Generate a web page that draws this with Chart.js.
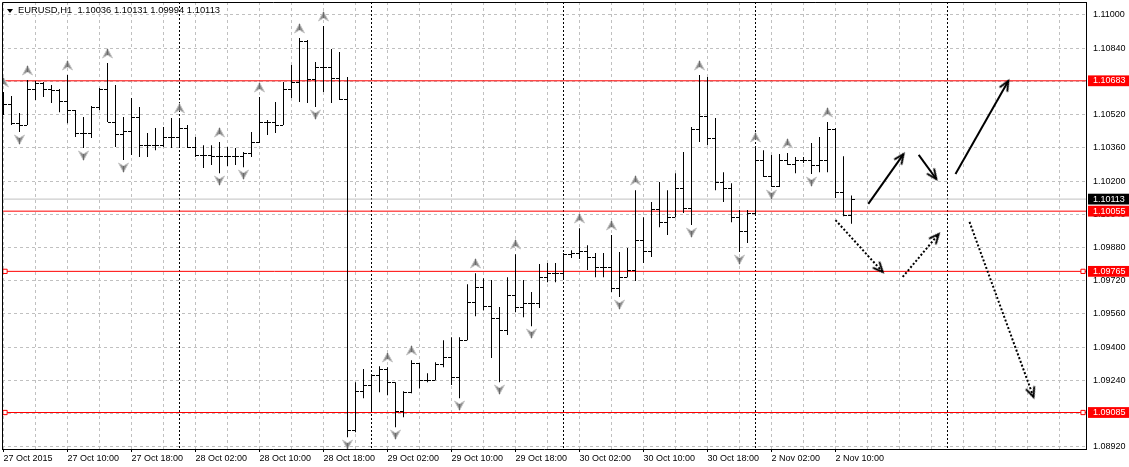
<!DOCTYPE html>
<html>
<head>
<meta charset="utf-8">
<script src="https://cdn.jsdelivr.net/npm/chart.js@4.4.0/dist/chart.umd.min.js"></script>
<style>
  html, body { margin: 0; padding: 0; background: #fff; }
  #wrap { position: relative; width: 1129px; height: 467px; }
  #tri { position: absolute; left: 7px; top: 9px; width: 0; height: 0;
         border-left: 3px solid transparent; border-right: 3px solid transparent; border-top: 4px solid #000; }
  #title { position: absolute; left: 18px; top: 4px; font: 9.4px 'Liberation Sans', Arial, sans-serif; color: #000; white-space: pre; }
</style>
</head>
<body>
<div id="wrap">
  <canvas id="chart" width="1129" height="467"></canvas>
  <div id="tri"></div>
  <div id="title"></div>
</div>
<script>
(function() {
  const symbol = 'EURUSD,H1';

  // H1 bars, 27 Oct 2015 02:00 .. 2 Nov 2015 12:00 (bar index = hour slot)
  const opens = [
    1.10605, 1.10571, 1.10475, 1.10470, 1.10643, 1.10672, 1.10643, 1.10634, 1.10585, 1.10542,
    1.10431, 1.10431, 1.10552, 1.10643, 1.10484, 1.10422, 1.10441, 1.10504, 1.10373, 1.10369,
    1.10369, 1.10412, 1.10412, 1.10455, 1.10364, 1.10325, 1.10325, 1.10316, 1.10316, 1.10316,
    1.10316, 1.10335, 1.10388, 1.10484, 1.10484, 1.10470, 1.10643, 1.10677, 1.10870, 1.10687,
    1.10745, 1.10745, 1.10696, 1.10595, 1.09000, 1.09188, 1.09217, 1.09265, 1.09294, 1.09231,
    1.09091, 1.09183, 1.09323, 1.09241, 1.09241, 1.09318, 1.09352, 1.09255, 1.09433, 1.09617,
    1.09689, 1.09597, 1.09540, 1.09482, 1.09650, 1.09593, 1.09612, 1.09612, 1.09737, 1.09756,
    1.09756, 1.09848, 1.09853, 1.09862, 1.09834, 1.09785, 1.09785, 1.09684, 1.09737, 1.09771,
    1.09915, 1.09862, 1.10065, 1.10002, 1.10026, 1.10166, 1.10070, 1.10446, 1.10513, 1.10407,
    1.10195, 1.10166, 1.10026, 1.09959, 1.10046, 1.10301, 1.10224, 1.10176, 1.10301, 1.10282,
    1.10301, 1.10301, 1.10277, 1.10301, 1.10446, 1.10147, 1.10036
  ];
  const highs = [
    1.10629, 1.10610, 1.10528, 1.10687, 1.10682, 1.10677, 1.10663, 1.10643, 1.10711, 1.10542,
    1.10508, 1.10561, 1.10648, 1.10769, 1.10663, 1.10508, 1.10600, 1.10557, 1.10431, 1.10455,
    1.10460, 1.10504, 1.10504, 1.10470, 1.10412, 1.10373, 1.10373, 1.10388, 1.10364, 1.10359,
    1.10340, 1.10436, 1.10605, 1.10494, 1.10581, 1.10677, 1.10759, 1.10889, 1.10880, 1.10773,
    1.10947, 1.10836, 1.10822, 1.10701, 1.09231, 1.09294, 1.09265, 1.09308, 1.09303, 1.09231,
    1.09188, 1.09337, 1.09323, 1.09274, 1.09327, 1.09433, 1.09448, 1.09448, 1.09703, 1.09756,
    1.09732, 1.09723, 1.09593, 1.09737, 1.09848, 1.09723, 1.09665, 1.09800, 1.09805, 1.09805,
    1.09853, 1.09867, 1.09973, 1.09891, 1.09853, 1.09853, 1.09940, 1.09858, 1.09877, 1.10156,
    1.10026, 1.10099, 1.10195, 1.10156, 1.10238, 1.10340, 1.10460, 1.10711, 1.10701, 1.10504,
    1.10243, 1.10190, 1.10060, 1.10060, 1.10364, 1.10349, 1.10325, 1.10330, 1.10335, 1.10316,
    1.10316, 1.10383, 1.10412, 1.10484, 1.10455, 1.10320, 1.10131
  ];
  const lows = [
    1.10518, 1.10470, 1.10436, 1.10470, 1.10590, 1.10605, 1.10576, 1.10532, 1.10479, 1.10412,
    1.10359, 1.10407, 1.10542, 1.10484, 1.10364, 1.10301, 1.10325, 1.10316, 1.10316, 1.10349,
    1.10364, 1.10359, 1.10364, 1.10359, 1.10316, 1.10263, 1.10277, 1.10238, 1.10272, 1.10277,
    1.10267, 1.10316, 1.10383, 1.10422, 1.10431, 1.10470, 1.10600, 1.10581, 1.10576, 1.10557,
    1.10629, 1.10576, 1.10590, 1.08966, 1.08990, 1.09154, 1.09096, 1.09183, 1.09168, 1.09014,
    1.09062, 1.09178, 1.09202, 1.09231, 1.09241, 1.09303, 1.09217, 1.09154, 1.09433, 1.09549,
    1.09578, 1.09347, 1.09231, 1.09458, 1.09568, 1.09544, 1.09501, 1.09588, 1.09713, 1.09713,
    1.09723, 1.09829, 1.09824, 1.09771, 1.09737, 1.09737, 1.09665, 1.09641, 1.09737, 1.09718,
    1.09805, 1.09834, 1.09978, 1.09940, 1.10026, 1.10046, 1.09988, 1.10388, 1.10373, 1.10156,
    1.10099, 1.10002, 1.09858, 1.09901, 1.10041, 1.10219, 1.10171, 1.10171, 1.10277, 1.10238,
    1.10287, 1.10234, 1.10243, 1.10243, 1.10118, 1.10030, 1.09994
  ];
  const closes = [
    1.10571, 1.10475, 1.10470, 1.10643, 1.10672, 1.10643, 1.10634, 1.10585, 1.10542, 1.10431,
    1.10431, 1.10552, 1.10643, 1.10484, 1.10422, 1.10441, 1.10504, 1.10373, 1.10369, 1.10369,
    1.10412, 1.10412, 1.10455, 1.10364, 1.10325, 1.10325, 1.10316, 1.10316, 1.10316, 1.10316,
    1.10335, 1.10388, 1.10484, 1.10484, 1.10470, 1.10643, 1.10677, 1.10870, 1.10687, 1.10745,
    1.10745, 1.10696, 1.10595, 1.09000, 1.09188, 1.09217, 1.09265, 1.09294, 1.09231, 1.09091,
    1.09183, 1.09323, 1.09241, 1.09241, 1.09318, 1.09352, 1.09255, 1.09433, 1.09617, 1.09689,
    1.09597, 1.09540, 1.09482, 1.09650, 1.09593, 1.09612, 1.09612, 1.09737, 1.09756, 1.09756,
    1.09848, 1.09853, 1.09862, 1.09834, 1.09785, 1.09785, 1.09684, 1.09737, 1.09771, 1.09915,
    1.09862, 1.10065, 1.10002, 1.10026, 1.10166, 1.10070, 1.10446, 1.10513, 1.10407, 1.10195,
    1.10166, 1.10026, 1.09959, 1.10046, 1.10301, 1.10224, 1.10176, 1.10301, 1.10282, 1.10301,
    1.10301, 1.10277, 1.10301, 1.10446, 1.10147, 1.10036, 1.10113
  ];

  // Bill Williams fractals (bar indices)
  const fractalUp = [0, 3, 8, 13, 22, 27, 32, 37, 40, 48, 51, 59, 64, 72, 76, 79, 87, 94, 98, 103];
  const fractalDown = [2, 10, 15, 27, 30, 39, 43, 49, 57, 62, 66, 77, 86, 92, 96, 101];

  // time axis: one label every 8 bars, day separators
  const timeLabels = ['27 Oct 2015', '27 Oct 10:00', '27 Oct 18:00', '28 Oct 02:00', '28 Oct 10:00',
    '28 Oct 18:00', '29 Oct 02:00', '29 Oct 10:00', '29 Oct 18:00', '30 Oct 02:00', '30 Oct 10:00',
    '30 Oct 18:00', '2 Nov 02:00', '2 Nov 10:00'];
  const daySeparators = [22, 46, 70, 94, 118];

  // price axis
  const priceTicks = [1.08920, 1.09080, 1.09240, 1.09400, 1.09560, 1.09720, 1.09880,
    1.10040, 1.10200, 1.10360, 1.10520, 1.10680, 1.10840, 1.11000];
  const redLevels = [1.10683, 1.10055, 1.09765, 1.09085];
  const selectedLevels = [1.09765, 1.09085];
  const bidPrice = 1.10113;

  // drawn arrows: [bar index, price] start -> end
  const solidArrows = [
    [[108.1, 1.10090], [112.5, 1.10330]],
    [[114.4, 1.10326], [116.6, 1.10210]],
    [[119.0, 1.10234], [125.6, 1.10682]]
  ];
  const dottedArrows = [
    [[104.0, 1.10012], [109.9, 1.09762]],
    [[112.4, 1.09738], [116.9, 1.09945]],
    [[120.75, 1.10003], [128.75, 1.09160]]
  ];

  const xMin = -0.1875, xMax = 135.3125;
  const yMin = 1.089092, yMax = 1.110626;
  const FONT = "'Liberation Sans', Arial, sans-serif";
  const GRID = '#c0c0c0';
  const CLEAR = 'rgba(0,0,0,0)';

  const n = opens.length - 1;
  document.getElementById('title').textContent =
    symbol + '  ' + [opens[n], highs[n], lows[n], closes[n]].map(v => v.toFixed(5)).join(' ');

  function makeCanvas(w, h, draw) {
    const c = document.createElement('canvas');
    c.width = w; c.height = h;
    draw(c.getContext('2d'));
    return c;
  }
  const openTick = makeCanvas(7, 1, g => { g.fillStyle = '#000'; g.fillRect(0, 0, 3, 1); });
  const closeTick = makeCanvas(7, 1, g => { g.fillStyle = '#000'; g.fillRect(4, 0, 3, 1); });

  function fractalGlyph(up) {
    const off = up ? 10 : 8, gh = 10;
    const h = 2 * (off + gh / 2);
    return makeCanvas(11, h, g => {
      g.save();
      if (!up) { g.translate(0, h); g.scale(1, -1); }
      g.beginPath();
      g.moveTo(5.5, 0.5); g.lineTo(10.5, 10); g.lineTo(5.5, 7); g.lineTo(0.5, 10); g.closePath();
      g.fillStyle = '#8c8c8c'; g.fill();
      g.strokeStyle = '#c8c8c8'; g.lineWidth = 1; g.stroke();
      g.beginPath(); g.moveTo(5.5, 1); g.lineTo(5.5, 7);
      g.strokeStyle = '#6a6a6a'; g.stroke();
      g.restore();
    });
  }
  const upGlyph = fractalGlyph(true);
  const downGlyph = fractalGlyph(false);

  const arrowHead = makeCanvas(25, 25, g => {
    const a = 24 * Math.PI / 180, L = 10;
    g.strokeStyle = '#000'; g.lineWidth = 2; g.lineCap = 'round';
    g.beginPath();
    g.moveTo(12.5 - L * Math.cos(a), 12.5 - L * Math.sin(a));
    g.lineTo(12.5, 12.5);
    g.lineTo(12.5 - L * Math.cos(a), 12.5 + L * Math.sin(a));
    g.stroke();
  });

  function arrowAngle(ctx) {
    const d = ctx.dataset.data;
    const xs = ctx.chart.scales.x, ys = ctx.chart.scales.y;
    const dx = xs.getPixelForValue(d[1].x) - xs.getPixelForValue(d[0].x);
    const dy = ys.getPixelForValue(d[1].y) - ys.getPixelForValue(d[0].y);
    return Math.atan2(dy, dx) * 180 / Math.PI;
  }

  function arrowSet(a, dotted) {
    return {
      type: 'line',
      data: [{ x: a[0][0], y: a[0][1] }, { x: a[1][0], y: a[1][1] }],
      borderColor: '#000', borderWidth: 2, borderDash: dotted ? [2, 2] : [],
      pointRadius: [0, 2], pointStyle: arrowHead, pointRotation: arrowAngle,
      fill: false, order: 0
    };
  }

  function levelSet(price, color, handles) {
    const pts = handles
      ? [xMin, 0.19, 134.94, xMax].map(x => ({ x, y: price }))
      : [xMin, xMax].map(x => ({ x, y: price }));
    return {
      type: 'line', data: pts, borderColor: color, borderWidth: 1, fill: false,
      pointRadius: handles ? [0, 3, 3, 0] : 0, pointStyle: 'rect',
      pointBackgroundColor: '#fff', pointBorderColor: color, pointBorderWidth: 1,
      order: color === GRID ? 7 : 5
    };
  }

  const datasets = [];
  solidArrows.forEach(a => datasets.push(arrowSet(a, false)));
  dottedArrows.forEach(a => datasets.push(arrowSet(a, true)));
  datasets.push({
    type: 'scatter', crisp: true, order: 1,
    data: opens.map((v, i) => ({ x: i, y: v })),
    pointStyle: openTick, pointRadius: 1
  });
  datasets.push({
    type: 'scatter', crisp: true, order: 1,
    data: closes.map((v, i) => ({ x: i, y: v })),
    pointStyle: closeTick, pointRadius: 1
  });
  datasets.push({
    type: 'bar', order: 2,
    data: highs.map((h, i) => ({ x: i, y: [lows[i], h] })),
    backgroundColor: '#000', borderWidth: 0, barThickness: 1, inflateAmount: 0
  });
  datasets.push({
    type: 'scatter', crisp: true, order: 3,
    data: fractalUp.map(i => ({ x: i, y: highs[i] })),
    pointStyle: upGlyph, pointRadius: 1
  });
  datasets.push({
    type: 'scatter', crisp: true, order: 3,
    data: fractalDown.map(i => ({ x: i, y: lows[i] })),
    pointStyle: downGlyph, pointRadius: 1
  });
  redLevels.forEach(p => datasets.push(levelSet(p, '#ff0000', selectedLevels.includes(p))));
  datasets.push(levelSet(bidPrice, GRID, false));

  const priceBoxes = redLevels.map(p => ({ value: p, box: '#ff0000' }))
    .concat([{ value: bidPrice, box: '#000000' }]);

  const smoothing = {
    id: 'smoothing',
    beforeDatasetDraw(chart, args) {
      chart.ctx.imageSmoothingEnabled = !chart.data.datasets[args.index].crisp;
    },
    afterDatasetDraw(chart) { chart.ctx.imageSmoothingEnabled = true; }
  };
  const frame = {
    id: 'frame',
    afterDraw(chart) {
      const { ctx, chartArea: a } = chart;
      ctx.save();
      ctx.strokeStyle = '#000'; ctx.lineWidth = 1;
      ctx.beginPath();
      ctx.moveTo(Math.round(a.left) + 0.5, a.bottom);
      ctx.lineTo(Math.round(a.left) + 0.5, Math.round(a.top) + 0.5);
      ctx.lineTo(a.right, Math.round(a.top) + 0.5);
      ctx.stroke();
      ctx.restore();
    }
  };

  new Chart(document.getElementById('chart'), {
    type: 'bar',
    data: { datasets },
    plugins: [smoothing, frame],
    options: {
      responsive: false,
      animation: false,
      events: [],
      layout: { autoPadding: false, padding: { left: 2, top: 2, right: 0, bottom: 0 } },
      plugins: { legend: { display: false }, tooltip: { enabled: false } },
      scales: {
        x: {
          type: 'linear', min: xMin, max: xMax, bounds: 'data', offset: false,
          afterBuildTicks: s => {
            const t = [];
            for (let v = 0; v <= 132; v += 4) {
              const k = v / 8;
              t.push({ value: v, txt: Number.isInteger(k) ? (timeLabels[k] || '') : '' });
            }
            daySeparators.forEach(v => t.push({ value: v, sep: true, txt: '' }));
            s.ticks = t;
          },
          afterFit: s => { s.height = 18; s.paddingLeft = 0; s.paddingRight = 0; },
          grid: {
            offset: false, drawTicks: true, tickLength: 3,
            color: c => (c.tick && c.tick.sep) ? '#000' : GRID,
            tickColor: c => (c.tick && c.tick.txt) ? '#000' : CLEAR
          },
          border: { color: '#000', dash: c => (c.tick && c.tick.sep) ? [2, 2] : [3, 3] },
          ticks: {
            autoSkip: false, maxRotation: 0, minRotation: 0, align: 'start', padding: 1,
            color: '#000', font: { family: FONT, size: 9 },
            callback: (v, i, t) => t[i].txt || ''
          }
        },
        y: {
          type: 'linear', position: 'right', min: yMin, max: yMax, bounds: 'data',
          afterBuildTicks: s => {
            s.ticks = priceTicks.map(v => ({ value: v })).concat(priceBoxes.map(b => ({ value: b.value, box: b.box })));
          },
          afterFit: s => { s.width = 43; s.paddingTop = 0; s.paddingBottom = 0; },
          grid: { drawTicks: false, color: c => (c.tick && c.tick.box) ? CLEAR : GRID },
          border: { color: '#000', dash: [3, 3] },
          ticks: {
            autoSkip: false, padding: 7, font: { family: FONT, size: 9 },
            color: c => (c.tick && c.tick.box) ? '#fff' : '#000',
            showLabelBackdrop: c => !!(c.tick && c.tick.box),
            backdropColor: c => (c.tick && c.tick.box) || CLEAR,
            backdropPadding: { left: 5, right: 5, top: 0, bottom: 0 },
            callback: v => v.toFixed(5)
          }
        }
      }
    }
  });
})();
</script>
</body>
</html>
